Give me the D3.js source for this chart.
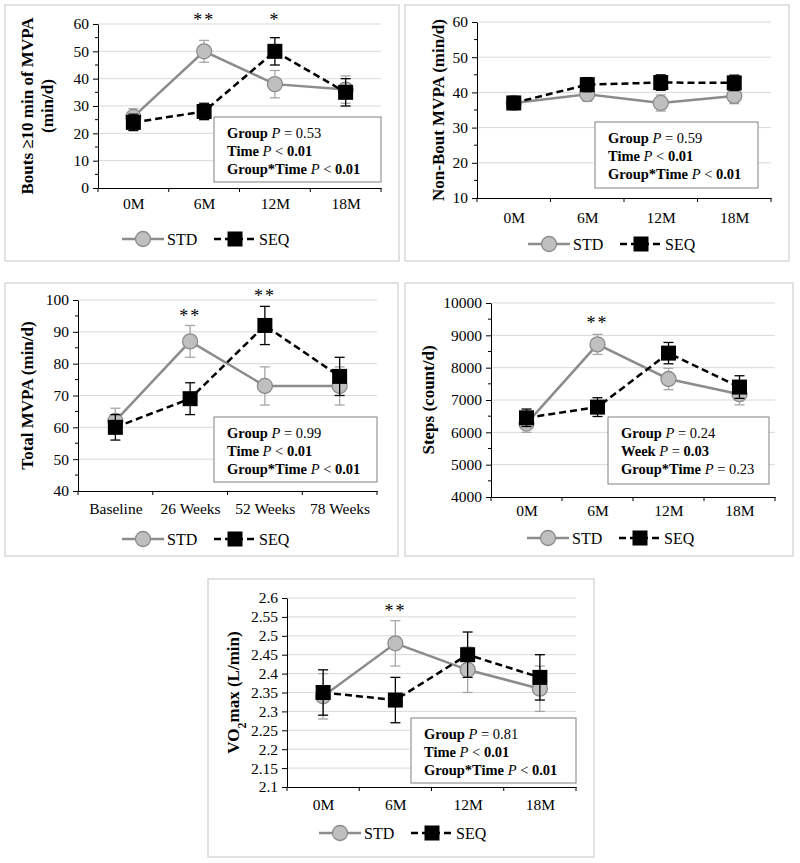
<!DOCTYPE html>
<html>
<head>
<meta charset="utf-8">
<script src="https://cdn.jsdelivr.net/npm/d3@7"></script>
<style>
body { margin: 0; background: #fff; }
svg { display: block; }
text { font-family: "Liberation Serif", "Times New Roman", serif; fill: #000; }
</style>
</head>
<body>
<svg width="800" height="863"></svg>
<script>
// ---------- data ----------
var monthLabels = ["0M", "6M", "12M", "18M"];
var weekLabels = ["Baseline", "26 Weeks", "52 Weeks", "78 Weeks"];

var boutsStd = [26, 50, 38, 36],       boutsStdErr = [3, 4, 5, 5];
var boutsSeq = [24, 28, 50, 35],       boutsSeqErr = [3, 3, 5, 5];

var nonBoutStd = [37, 39.5, 37, 39],   nonBoutStdErr = [2, 2, 2.3, 2.2];
var nonBoutSeq = [37, 42.2, 42.8, 42.7], nonBoutSeqErr = [1.8, 2, 2.2, 2.2];

var totalStd = [62, 87, 73, 73],       totalStdErr = [4, 5, 6, 6];
var totalSeq = [60, 69, 92, 76],       totalSeqErr = [4, 5, 6, 6];

var stepsStd = [6270, 8720, 7650, 7180], stepsStdErr = [270, 310, 330, 330];
var stepsSeq = [6450, 6780, 8450, 7400], stepsSeqErr = [270, 290, 330, 350];

var vo2Std = [2.34, 2.48, 2.41, 2.36], vo2StdErr = [0.06, 0.06, 0.06, 0.06];
var vo2Seq = [2.35, 2.33, 2.45, 2.39], vo2SeqErr = [0.06, 0.06, 0.06, 0.06];

var boutsTicks = [0, 10, 20, 30, 40, 50, 60];
var nonBoutTicks = [10, 20, 30, 40, 50, 60];
var totalTicks = [40, 50, 60, 70, 80, 90, 100];
var stepsTicks = [4000, 5000, 6000, 7000, 8000, 9000, 10000];
var vo2Ticks = [2.1, 2.15, 2.2, 2.25, 2.3, 2.35, 2.4, 2.45, 2.5, 2.55, 2.6];

var svg = d3.select("svg");

var STD_COLOR = "#8c8c8c", STD_FILL = "#bfbfbf", STD_ERR = "#a6a6a6";

function drawPanel(c) {
    var g = svg.append("g");

    g.append("rect")
        .attr("x", c.box[0]).attr("y", c.box[1])
        .attr("width", c.box[2] - c.box[0]).attr("height", c.box[3] - c.box[1])
        .attr("fill", "none").attr("stroke", "#d9d9d9").attr("stroke-width", 1.5);

    var x = d3.scalePoint().domain(c.cats).range([c.x0, c.x1]).padding(0.5);
    var y = d3.scaleLinear().domain(c.domain).range([c.yBot, c.yTop]);

    // gridlines
    g.selectAll(".grid")
        .data(c.ticks.slice(1))
        .enter().append("line")
        .attr("x1", c.x0).attr("x2", c.x1)
        .attr("y1", function (d) { return y(d); })
        .attr("y2", function (d) { return y(d); })
        .attr("stroke", "#d9d9d9").attr("stroke-width", 1);

    // minor ticks
    if (c.minor) {
        var step = c.ticks[1] - c.ticks[0];
        var minors = c.ticks.slice(1).map(function (d) { return d - step / 2; });
        g.selectAll(".minor")
            .data(minors)
            .enter().append("line")
            .attr("x1", c.x0 - 3).attr("x2", c.x0)
            .attr("y1", function (d) { return y(d); })
            .attr("y2", function (d) { return y(d); })
            .attr("stroke", "#000");
    }

    var yAxis = g.append("g")
        .attr("transform", "translate(" + c.x0 + ",0)")
        .call(d3.axisLeft(y).tickValues(c.ticks).tickSize(5).tickSizeOuter(0).tickPadding(4)
            .tickFormat(function (d) { return String(+d.toFixed(3)); }));
    yAxis.select(".domain").attr("stroke", "#000");
    yAxis.selectAll("text").style("font-size", "15.5px").style("font-family", "Liberation Serif");

    // x axis
    var xAxis = g.append("g")
        .attr("transform", "translate(0," + c.yBot + ")")
        .call(d3.axisBottom(x).tickSize(0).tickSizeOuter(0).tickPadding(c.labelPad));
    xAxis.select(".domain").attr("stroke", "#000");
    xAxis.selectAll("text").style("font-size", "15.5px").style("font-family", "Liberation Serif");
    var bw = x.step();
    g.selectAll(".xtick")
        .data(d3.range(c.cats.length + 1))
        .enter().append("line")
        .attr("x1", function (i) { return c.x0 + i * bw; })
        .attr("x2", function (i) { return c.x0 + i * bw; })
        .attr("y1", c.yBot).attr("y2", c.yBot + 4)
        .attr("stroke", "#000");

    // y axis title
    var tt = g.append("text")
        .attr("transform", "translate(" + c.titleX + "," + ((c.yTop + c.yBot) / 2) + ") rotate(-90)")
        .attr("text-anchor", "middle")
        .style("font-weight", "bold").style("font-size", "17px");
    c.title(tt);

    function series(vals, errs, color, errColor, dashed, marker) {
        var pts = vals.map(function (v, i) { return { x: x(c.cats[i]), v: v, e: errs[i] }; });
        var eg = g.append("g");
        pts.forEach(function (p) {
            eg.append("line").attr("x1", p.x).attr("x2", p.x)
                .attr("y1", y(p.v - p.e)).attr("y2", y(p.v + p.e))
                .attr("stroke", errColor).attr("stroke-width", 1.3);
            [p.v - p.e, p.v + p.e].forEach(function (w) {
                eg.append("line").attr("x1", p.x - 5).attr("x2", p.x + 5)
                    .attr("y1", y(w)).attr("y2", y(w))
                    .attr("stroke", errColor).attr("stroke-width", 1.3);
            });
        });
        g.append("path")
            .datum(pts)
            .attr("d", d3.line().x(function (p) { return p.x; }).y(function (p) { return y(p.v); }))
            .attr("fill", "none").attr("stroke", color).attr("stroke-width", 2.5)
            .attr("stroke-dasharray", dashed ? "7,4" : null);
        pts.forEach(function (p) { marker(g, p.x, y(p.v)); });
    }

    series(c.std, c.stdErr, STD_COLOR, STD_ERR, false, circle);
    series(c.seq, c.seqErr, "#000", "#000", true, square);

    // significance stars
    c.stars.forEach(function (s) {
        g.append("text")
            .attr("x", x(c.cats[s.i])).attr("y", y(s.v) + 10)
            .attr("text-anchor", "middle")
            .style("font-size", "18px").style("letter-spacing", "2px")
            .text(s.t);
    });

    // stats box
    g.append("rect")
        .attr("x", c.stat[0]).attr("y", c.stat[1])
        .attr("width", c.stat[2] - c.stat[0]).attr("height", c.stat[3] - c.stat[1])
        .attr("fill", "#fff").attr("stroke", "#808080").attr("stroke-width", 1);
    c.statLines.forEach(function (line, k) {
        var t = g.append("text")
            .attr("x", c.stat[0] + 13).attr("y", c.stat[1] + 21 + k * 18)
            .style("font-size", "14.5px");
        line.forEach(function (seg) {
            t.append("tspan")
                .style("font-weight", seg[1].indexOf("b") >= 0 ? "bold" : "normal")
                .style("font-style", seg[1].indexOf("i") >= 0 ? "italic" : "normal")
                .text(seg[0]);
        });
    });

    // legend
    var lx = c.legend[0], ly = c.legend[1];
    var lg = g.append("g");
    lg.append("line").attr("x1", lx).attr("x2", lx + 42).attr("y1", ly).attr("y2", ly)
        .attr("stroke", STD_COLOR).attr("stroke-width", 2.5);
    circle(lg, lx + 21, ly);
    lg.append("text").attr("x", lx + 45).attr("y", ly + 5.5).style("font-size", "16px").text("STD");
    var sx = lx + 92;
    lg.append("line").attr("x1", sx).attr("x2", sx + 42).attr("y1", ly).attr("y2", ly)
        .attr("stroke", "#000").attr("stroke-width", 2.5).attr("stroke-dasharray", "7,4");
    square(lg, sx + 21, ly);
    lg.append("text").attr("x", sx + 45).attr("y", ly + 5.5).style("font-size", "16px").text("SEQ");
}

function circle(g, cx, cy) {
    g.append("circle").attr("cx", cx).attr("cy", cy).attr("r", 7.5)
        .attr("fill", STD_FILL).attr("stroke", STD_COLOR).attr("stroke-width", 1.3);
}
function square(g, cx, cy) {
    g.append("rect").attr("x", cx - 7.5).attr("y", cy - 7.5).attr("width", 15).attr("height", 15)
        .attr("fill", "#000");
}

function simpleTitle(s) {
    return function (t) { t.text(s); };
}

var stdStats = function (g, t, gt) {
    return [
        [["Group ", "b"], ["P", "i"], [" = " + g, ""]],
        [["Time ", "b"], ["P", "i"], [" < ", ""], [t, "b"]],
        [["Group*Time ", "b"], ["P", "i"], [" < ", ""], [gt, "b"]]
    ];
};

drawPanel({
    box: [5, 5, 399, 261],
    x0: 98, x1: 381, yTop: 24, yBot: 188, labelPad: 10,
    cats: monthLabels, domain: [0, 60], ticks: boutsTicks, minor: true,
    titleX: 33,
    title: function (t) {
        t.append("tspan").attr("x", 0).attr("dy", 0).text("Bouts \u226510 min of MVPA");
        t.append("tspan").attr("x", 0).attr("dy", 20).text("(min/d)");
    },
    std: boutsStd, stdErr: boutsStdErr, seq: boutsSeq, seqErr: boutsSeqErr,
    stars: [{ i: 1, v: 63, t: "**" }, { i: 2, v: 63, t: "*" }],
    stat: [214, 117, 381, 182],
    statLines: stdStats("0.53", "0.01", "0.01"),
    legend: [122, 239]
});

drawPanel({
    box: [405, 5, 789, 261],
    x0: 477, x1: 771, yTop: 22, yBot: 198, labelPad: 14,
    cats: monthLabels, domain: [10, 60], ticks: nonBoutTicks, minor: true,
    titleX: 444,
    title: simpleTitle("Non-Bout MVPA (min/d)"),
    std: nonBoutStd, stdErr: nonBoutStdErr, seq: nonBoutSeq, seqErr: nonBoutSeqErr,
    stars: [],
    stat: [595, 122, 758, 188],
    statLines: stdStats("0.59", "0.01", "0.01"),
    legend: [528, 244]
});

drawPanel({
    box: [5, 283, 398, 556],
    x0: 78, x1: 377, yTop: 300, yBot: 491, labelPad: 12,
    cats: weekLabels, domain: [40, 100], ticks: totalTicks, minor: true,
    titleX: 33,
    title: simpleTitle("Total MVPA (min/d)"),
    std: totalStd, stdErr: totalStdErr, seq: totalSeq, seqErr: totalSeqErr,
    stars: [{ i: 1, v: 96.2, t: "**" }, { i: 2, v: 102.5, t: "**" }],
    stat: [214, 417, 377, 482],
    statLines: stdStats("0.99", "0.01", "0.01"),
    legend: [122, 539]
});

drawPanel({
    box: [405, 283, 793, 556],
    x0: 491, x1: 775, yTop: 303, yBot: 497, labelPad: 8,
    cats: monthLabels, domain: [4000, 10000], ticks: stepsTicks, minor: true,
    titleX: 434,
    title: simpleTitle("Steps (count/d)"),
    std: stepsStd, stdErr: stepsStdErr, seq: stepsSeq, seqErr: stepsSeqErr,
    stars: [{ i: 1, v: 9505, t: "**" }],
    stat: [608, 417, 769, 484],
    statLines: [
        [["Group ", "b"], ["P", "i"], [" = 0.24", ""]],
        [["Week ", "b"], ["P", "i"], [" = ", ""], ["0.03", "b"]],
        [["Group*Time ", "b"], ["P", "i"], [" = 0.23", ""]]
    ],
    legend: [527, 538]
});

drawPanel({
    box: [208, 579, 594, 857],
    x0: 287, x1: 576, yTop: 598, yBot: 787, labelPad: 12,
    cats: monthLabels, domain: [2.1, 2.6], ticks: vo2Ticks, minor: false,
    titleX: 239,
    title: function (t) {
        t.append("tspan").text("VO");
        t.append("tspan").attr("baseline-shift", "sub").style("font-size", "12px").text("2");
        t.append("tspan").text("max (L/min)");
    },
    std: vo2Std, stdErr: vo2StdErr, seq: vo2Seq, seqErr: vo2SeqErr,
    stars: [{ i: 1, v: 2.576, t: "**" }],
    stat: [411, 718, 576, 783],
    statLines: stdStats("0.81", "0.01", "0.01"),
    legend: [319, 833]
});
</script>
</body>
</html>
